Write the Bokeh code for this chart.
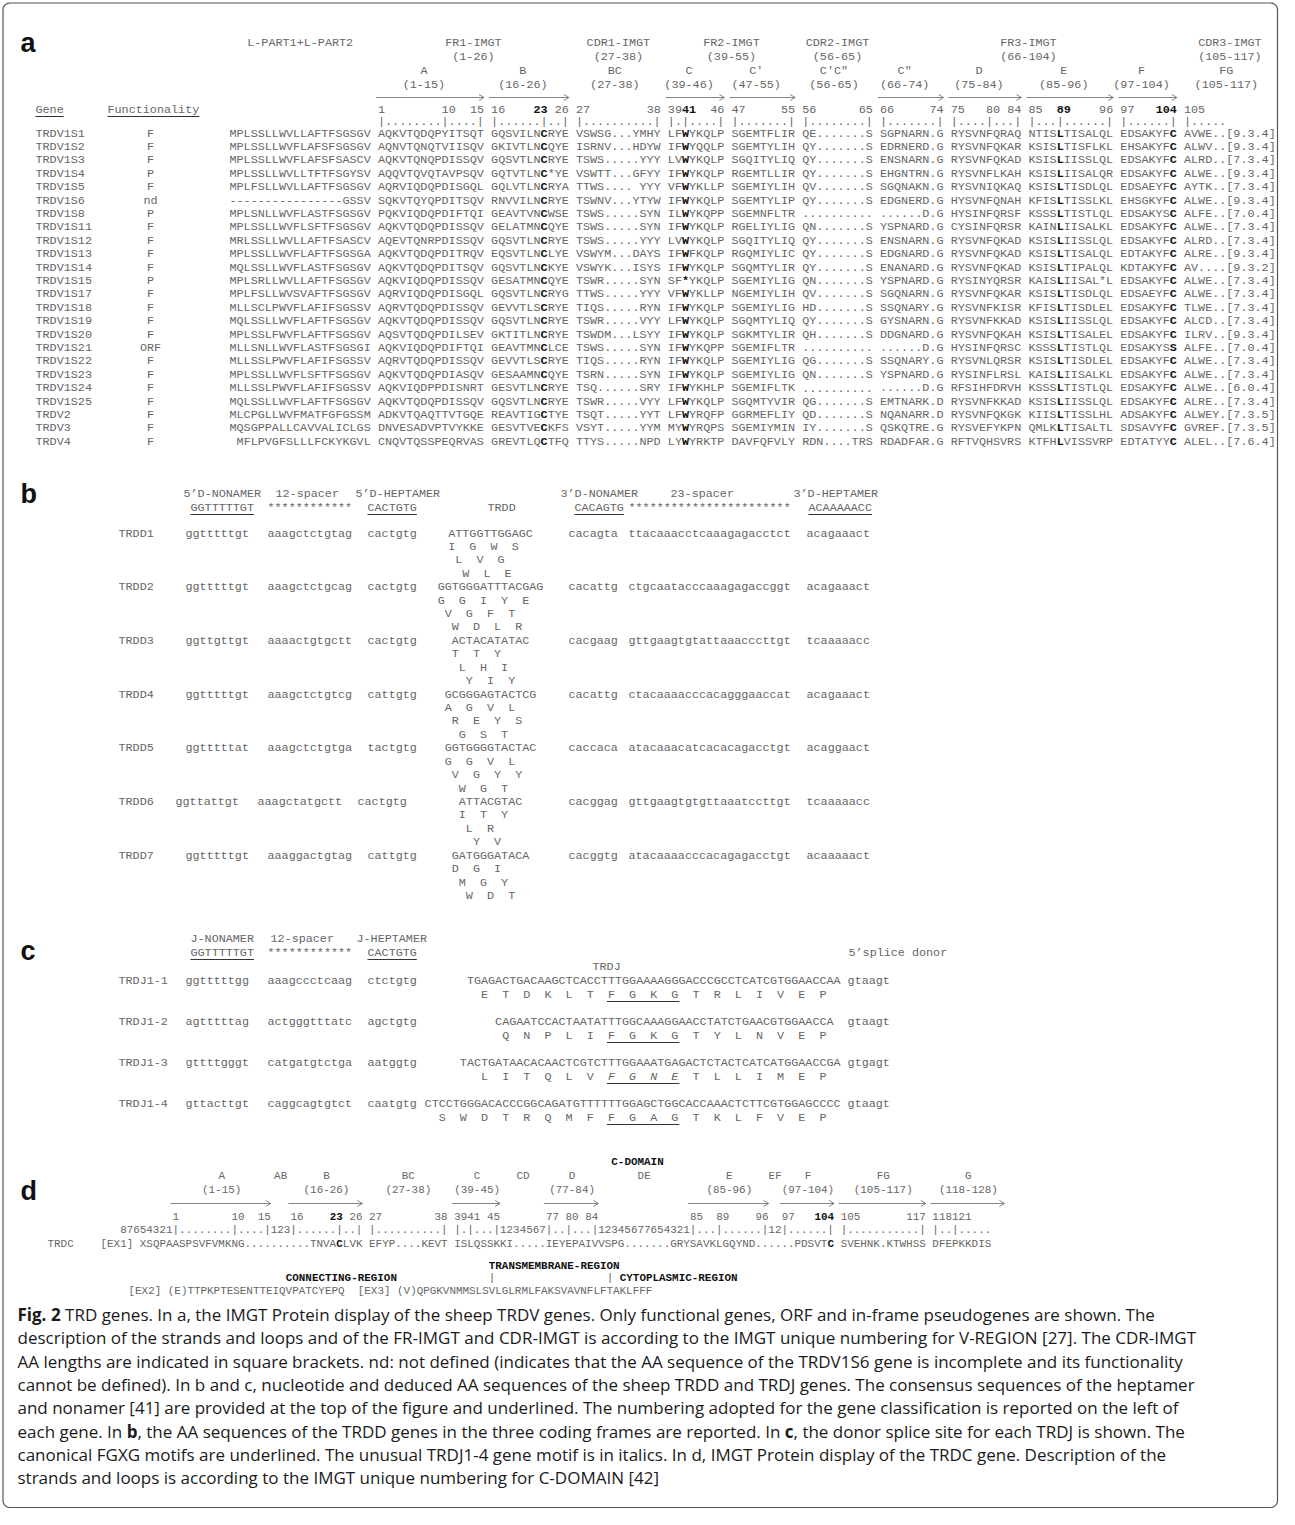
import os, glob, subprocess, math
from collections import defaultdict
from bokeh.plotting import figure
from bokeh.models import ColumnDataSource, Range1d
from bokeh.core.properties import value
from bokeh.embed import file_html
from bokeh.resources import INLINE

# ======================= DATA =======================
# ---- panel a : TRDV genes ----
a_genes = ["TRDV1S1", "TRDV1S2", "TRDV1S3", "TRDV1S4", "TRDV1S5", "TRDV1S6", "TRDV1S8",
           "TRDV1S11", "TRDV1S12", "TRDV1S13", "TRDV1S14", "TRDV1S15", "TRDV1S17",
           "TRDV1S18", "TRDV1S19", "TRDV1S20", "TRDV1S21", "TRDV1S22", "TRDV1S23",
           "TRDV1S24", "TRDV1S25", "TRDV2", "TRDV3", "TRDV4"]
a_func = ["F", "F", "F", "P", "F", "nd", "P", "F", "F", "F", "F", "P", "F", "F", "F", "F",
          "ORF", "F", "F", "F", "F", "F", "F", "F"]
a_seqs = [
    "MPLSSLLWVLLAFTFSGSGV AQKVTQDQPYITSQT GQSVILNCRYE VSWSG...YMHY LFWYKQLP SGEMTFLIR QE.......S SGPNARN.G RYSVNFQRAQ NTISLTISALQL EDSAKYFC AVWE..[9.3.4]",
    "MPLSSLLWVFLAFSFSGSGV AQNVTQNQTVIISQV GKIVTLNCQYE ISRNV...HDYW IFWYQQLP SGEMTYLIH QY.......S EDRNERD.G RYSVNFQKAR KSISLTISFLKL EHSAKYFC ALWV..[9.3.4]",
    "MPLSSLLWVFLAFSFSASCV AQKVTQNQPDISSQV GQSVTLNCRYE TSWS.....YYY LVWYKQLP SGQITYLIQ QY.......S ENSNARN.G RYSVNFQKAD KSISLIISSLQL EDSAKYFC ALRD..[7.3.4]",
    "MPLSSLLWVLLTFTFSGYSV AQQVTQVQTAVPSQV GQTVTLNC*YE VSWTT...GFYY IFWYKQLP RGEMTLLIR QY.......S EHGNTRN.G RYSVNFLKAH KSISLIISALQR EDSAKYFC ALWE..[9.3.4]",
    "MPLFSLLWVLLAFTFSGSGV AQRVIQDQPDISGQL GQLVTLNCRYA TTWS.... YYY VFWYKLLP SGEMIYLIH QV.......S SGQNAKN.G RYSVNIQKAQ KSISLTISDLQL EDSAEYFC AYTK..[7.3.4]",
    "----------------GSSV SQKVTQYQPDITSQV RNVVILNCRYE TSWNV...YTYW IFWYKQLP SGEMTYLIP QY.......S EDGNERD.G HYSVNFQNAH KFISLTISSLKL EHSGKYFC ALWE..[9.3.4]",
    "MPLSNLLWVFLASTFSGSGV PQKVIQDQPDIFTQI GEAVTVNCWSE TSWS.....SYN ILWYKQPP SGEMNFLTR .......... ......D.G HYSINFQRSF KSSSLTISTLQL EDSAKYSC ALFE..[7.0.4]",
    "MPLSSLLWVFLSFTFSGSGV AQKVTQDQPDISSQV GELATMNCQYE TSWS.....SYN IFWYKQLP RGELIYLIG QN.......S YSPNARD.G CYSINFQRSR KAINLIISALKL EDSAKYFC ALWE..[7.3.4]",
    "MRLSSLLWVLLAFTFSASCV AQEVTQNRPDISSQV GQSVTLNCRYE TSWS.....YYY LVWYKQLP SGQITYLIQ QY.......S ENSNARN.G RYSVNFQKAD KSISLIISSLQL EDSAKYFC ALRD..[7.3.4]",
    "MPLSSLLWVFLAFTFSGSGA AQKVTQDQPDITRQV EQSVTLNCLYE VSWYM...DAYS IFWFKQLP RGQMIYLIC QY.......S EDGNARD.G RYSVNFQKAD KSISLTISALQL EDTAKYFC ALRE..[9.3.4]",
    "MQLSSLLWVFLASTFSGSGV AQKVTQDQPDITSQV GQSVTLNCKYE VSWYK...ISYS IFWYKQLP SGQMTYLIR QY.......S ENANARD.G RYSVNFQKAD KSISLTIPALQL KDTAKYFC AV....[9.3.2]",
    "MPLSRLLWVLLAFTFSGSGV AQKVIQDQPDISSQV GESATMNCQYE TSWR.....SYN SF*YKQLP SGEMIYLIG QN.......S YSPNARD.G RYSINYQRSR KAISLIISAL*L EDSAKYFC ALWE..[7.3.4]",
    "MPLFSLLWVSVAFTFSGSGV AQRVIQDQPDISGQL GQSVTLNCRYG TTWS.....YYY VFWYKLLP NGEMIYLIH QV.......S SGQNARN.G RYSVNFQKAR KSISLTISDLQL EDSAEYFC ALWE..[7.3.4]",
    "MLLSCLPWVFLAFIFSGSSV AQRVTQDQPDISSQV GEVVTLSCRYE TIQS.....RYN IFWYKQLP SGEMIYLIG HD.......S SSQNARY.G RYSVNFKISR KFISLTISDLEL EDSAKYFC TLWE..[7.3.4]",
    "MQLSSLLWVFLAFTFSGSGV AQKVTQDQPDISSQV GQSVTLNCRYE TSWR.....VYY LFWYKQLP SGQMTYLIQ QY.......S GYSNARN.G RYSVNFKKAD KSISLIISSLQL EDSAKYFC ALCD..[7.3.4]",
    "MPLSSLFWVFLAFTFSGSGV AQSVTQDQPDILSEV GKTITLNCRYE TSWDM...LSYY IFWYKQLP SGKMTYLIR QH.......S DDGNARD.G RYSVNFQKAH KSISLTISALEL EDSAKYFC ILRV..[9.3.4]",
    "MLLSNLLWVFLASTFSGSGI AQKVIQDQPDIFTQI GEAVTMNCLCE TSWS.....SYN IFWYKQPP SGEMIFLTR .......... ......D.G HYSINFQRSC KSSSLTISTLQL EDSAKYSS ALFE..[7.0.4]",
    "MLLSSLPWVFLAFIFSGSSV AQRVTQDQPDISSQV GEVVTLSCRYE TIQS.....RYN IFWYKQLP SGEMIYLIG QG.......S SSQNARY.G RYSVNLQRSR KSISLTISDLEL EDSAKYFC ALWE..[7.3.4]",
    "MPLSSLLWVFLSFTFSGSGV AQKVTQDQPDIASQV GESAAMNCQYE TSRN.....SYN IFWYKQLP SGEMIYLIG QN.......S YSPNARD.G RYSINFLRSL KAISLIISALKL EDSAKYFC ALWE..[7.3.4]",
    "MLLSSLPWVFLAFIFSGSSV AQKVIQDPPDISNRT GESVTLNCRYE TSQ......SRY IFWYKHLP SGEMIFLTK .......... ......D.G RFSIHFDRVH KSSSLTISTLQL EDSAKYFC ALWE..[6.0.4]",
    "MQLSSLLWVFLAFTFSGSGV AQKVTQDQPDISSQV GQSVTLNCRYE TSWR.....VYY LFWYKQLP SGQMTYVIR QG.......S EMTNARK.D RYSVNFKKAD KSISLIISSLQL EDSAKYFC ALRE..[7.3.4]",
    "MLCPGLLWVFMATFGFGSSM ADKVTQAQTTVTGQE REAVTIGCTYE TSQT.....YYT LFWYRQFP GGRMEFLIY QD.......S NQANARR.D RYSVNFQKGK KIISLTISSLHL ADSAKYFC ALWEY.[7.3.5]",
    "MQSGPPALLCAVVALICLGS DNVESADVPTVYKKE GESVTVECKFS VSYT.....YYM MYWYRQPS SGEMIYMIN IY.......S QSKQTRE.G RYSVEFYKPN QMLKLTISALTL SDSAVYFC GVREF.[7.3.5]",
    " MFLPVGFSLLLFCKYKGVL CNQVTQSSPEQRVAS GREVTLQCTFQ TTYS.....NPD LYWYRKTP DAVFQFVLY RDN....TRS RDADFAR.G RFTVQHSVRS KTFHLVISSVRP EDTATYYC ALEL..[7.6.4]",
]
a_bold_pos = [23, 41, 89, 104]
a_top_labels = ["FR1-IMGT", "CDR1-IMGT", "FR2-IMGT", "CDR2-IMGT", "FR3-IMGT", "CDR3-IMGT"]
a_top_ranges = ["(1-26)", "(27-38)", "(39-55)", "(56-65)", "(66-104)", "(105-117)"]
a_top_first = [1, 27, 39, 56, 66, 105]
a_top_last = [26, 38, 55, 65, 104, 117]
a_strands = ["A", "B", "BC", "C", "C'", "C'C\"", "C\"", "D", "E", "F", "FG"]
a_strand_ranges = ["(1-15)", "(16-26)", "(27-38)", "(39-46)", "(47-55)", "(56-65)",
                   "(66-74)", "(75-84)", "(85-96)", "(97-104)", "(105-117)"]
a_strand_first = [1, 16, 27, 39, 47, 56, 66, 75, 85, 97, 105]
a_strand_last = [15, 26, 38, 46, 55, 65, 74, 84, 96, 104, 117]
a_strand_arrow = [1, 1, 0, 1, 1, 0, 1, 1, 1, 1, 0]
a_num_pos = [1, 10, 15, 16, 23, 26, 27, 38, 39, 41, 46, 47, 55, 56, 65, 66, 74, 75, 80, 84,
             85, 89, 96, 97, 104, 105]
a_num_align = "l l r l r r l r l l r l r l r l r l l r l l r l r l".split()
a_num_bold = [23, 41, 89, 104]
a_ruler = "|........|....| |......|..| |..........| |.|....| |.......| |........| |.......| |....|...| |...|......| |......| |....."

# ---- panel b : TRDD genes ----
b_genes = ["TRDD1", "TRDD2", "TRDD3", "TRDD4", "TRDD5", "TRDD6", "TRDD7"]
b_non5 = ["ggtttttgt", "ggtttttgt", "ggttgttgt", "ggtttttgt", "ggtttttat", "ggttattgt", "ggtttttgt"]
b_sp12 = ["aaagctctgtag", "aaagctctgcag", "aaaactgtgctt", "aaagctctgtcg", "aaagctctgtga",
          "aaagctatgctt", "aaaggactgtag"]
b_hep5 = ["cactgtg", "cactgtg", "cactgtg", "cattgtg", "tactgtg", "cactgtg", "cattgtg"]
b_coding = ["ATTGGTTGGAGC", "GGTGGGATTTACGAG", "ACTACATATAC", "GCGGGAGTACTCG",
            "GGTGGGGTACTAC", "ATTACGTAC", "GATGGGATACA"]
b_frame1 = ["IGWS", "GGIYE", "TTY", "AGVL", "GGVL", "ITY", "DGI"]
b_frame2 = ["LVG", "VGFT", "LHI", "REYS", "VGYY", "LR", "MGY"]
b_frame3 = ["WLE", "WDLR", "YIY", "GST", "WGT", "YV", "WDT"]
b_hep3 = ["cacagta", "cacattg", "cacgaag", "cacattg", "caccaca", "cacggag", "cacggtg"]
b_sp23 = ["ttacaaacctcaaagagacctct", "ctgcaatacccaaagagaccggt", "gttgaagtgtattaaacccttgt",
          "ctacaaaacccacagggaaccat", "atacaaacatcacacagacctgt", "gttgaagtgtgttaaatccttgt",
          "atacaaaacccacagagacctgt"]
b_non3 = ["acagaaact", "acagaaact", "tcaaaaacc", "acagaaact", "acaggaact", "tcaaaaacc", "acaaaaact"]

# ---- panel c : TRDJ genes ----
c_genes = ["TRDJ1-1", "TRDJ1-2", "TRDJ1-3", "TRDJ1-4"]
c_non = ["ggtttttgg", "agtttttag", "gttttgggt", "gttacttgt"]
c_sp12 = ["aaagccctcaag", "actgggtttatc", "catgatgtctga", "caggcagtgtct"]
c_hep = ["ctctgtg", "agctgtg", "aatggtg", "caatgtg"]
c_coding = ["TGAGACTGACAAGCTCACCTTTGGAAAAGGGACCCGCCTCATCGTGGAACCAA",
            "CAGAATCCACTAATATTTGGCAAAGGAACCTATCTGAACGTGGAACCA",
            "TACTGATAACACAACTCGTCTTTGGAAATGAGACTCTACTCATCATGGAACCGA",
            "CTCCTGGGACACCCGGCAGATGTTTTTTGGAGCTGGCACCAAACTCTTCGTGGAGCCCC"]
c_frame = [1, 0, 2, 1]
c_aa = ["ETDKLTFGKGTRLIVEP", "QNPLIFGKGTYLNVEP", "LITQLVFGNETLLIMEP", "SWDTRQMFFGAGTKLFVEP"]
c_motif_start = [6, 5, 6, 8]
c_motif_italic = [False, False, True, False]
c_donor = ["gtaagt", "gtaagt", "gtgagt", "gtaagt"]

# ---- panel d : TRDC ----
d_strands = ["A", "AB", "B", "BC", "C", "CD", "D", "DE", "E", "EF", "F", "FG", "G"]
d_ranges = ["(1-15)", "", "(16-26)", "(27-38)", "(39-45)", "", "(77-84)", "", "(85-96)", "",
            "(97-104)", "(105-117)", "(118-128)"]
d_seg_col = [8, 23, 26, 38, 51, 58, 65, 73, 87, 99, 101, 110, 124]
d_seg_len = [15, 3, 11, 12, 7, 7, 8, 14, 12, 2, 8, 13, 11]
d_arrow = [1, 0, 1, 0, 1, 0, 1, 0, 1, 0, 1, 1, 1]
d_num_pos = [1, 10, 15, 16, 23, 26, 27, 38, 39, 41, 45, 77, 80, 84, 85, 89, 96, 97, 104, 105,
             117, 118, 121]
d_num_align = "l l r l r r l r l l r l l r l l r l r l r l l".split()
d_num_bold = [23, 104]
d_ruler = "87654321|........|....|123|......|..| |..........| |.|...|1234567|..|...|12345677654321|...|......|12|......| |...........| |..|....."
d_trdc = "[EX1] XSQPAASPSVFVMKNG..........TNVACLVK EFYP....KEVT ISLQSSKKI.....IEYEPAIVVSPG.......GRYSAVKLGQYND......PDSVTC SVEHNK.KTWHSS DFEPKKDIS"
d_exon = "[EX2] (E)TTPKPTESENTTEIQVPATCYEPQ  [EX3] (V)QPGKVNMMSLSVLGLRMLFAKSVAVNFLFTAKLFFF"

# ---- caption ----
cap_lines = [
    [("Fig. 2", True), (" TRD genes. In a, the IMGT Protein display of the sheep TRDV genes. Only functional genes, ORF and in-frame pseudogenes are shown. The", False)],
    [("description of the strands and loops and of the FR-IMGT and CDR-IMGT is according to the IMGT unique numbering for V-REGION [27]. The CDR-IMGT", False)],
    [("AA lengths are indicated in square brackets. nd: not defined (indicates that the AA sequence of the TRDV1S6 gene is incomplete and its functionality", False)],
    [("cannot be defined). In b and c, nucleotide and deduced AA sequences of the sheep TRDD and TRDJ genes. The consensus sequences of the heptamer", False)],
    [("and nonamer [41] are provided at the top of the figure and underlined. The numbering adopted for the gene classification is reported on the left of", False)],
    [("each gene. In ", False), ("b", True), (", the AA sequences of the TRDD genes in the three coding frames are reported. In ", False), ("c", True), (", the donor splice site for each TRDJ is shown. The", False)],
    [("canonical FGXG motifs are underlined. The unusual TRDJ1-4 gene motif is in italics. In d, IMGT Protein display of the TRDC gene. Description of the", False)],
    [("strands and loops is according to the IMGT unique numbering for C-DOMAIN [42]", False)],
]

# ======================= STYLE / LAYOUT =======================
MONO = "Liberation Mono"
SANS = "Liberation Sans"
CAPF = "Open Sans"
GRAY = "#666666"
BLACK = "#111111"
LINEC = "#777777"

W_FIG, H_FIG = 1279, 1509
p = figure(width=W_FIG, height=H_FIG, x_range=Range1d(0, W_FIG), y_range=Range1d(H_FIG, 0),
           output_backend="svg", toolbar_location=None, x_axis_type=None, y_axis_type=None,
           min_border=0, min_border_left=0, min_border_right=0, min_border_top=0, min_border_bottom=0)
p.outline_line_color = None
p.background_fill_color = "white"
p.border_fill_color = "white"

groups = defaultdict(lambda: {"x": [], "y": [], "text": []})
segs = defaultdict(lambda: {"x0": [], "y0": [], "x1": [], "y1": []})


def put(x, y, s, font=MONO, size="11.8px", style="normal", color=GRAY, align="left"):
    g = groups[(font, size, style, color, align)]
    g["x"].append(x)
    g["y"].append(y)
    g["text"].append(s)


def seg(x0, y0, x1, y1, color=LINEC, width=1.0):
    s = segs[(color, width)]
    s["x0"].append(x0); s["y0"].append(y0); s["x1"].append(x1); s["y1"].append(y1)


def put_mono(s, x0, y, w, size, bold_cols=(), color=GRAY, bcolor=BLACK, style="normal"):
    i, n = 0, len(s)
    bold_cols = set(bold_cols)
    while i < n:
        if s[i] == " ":
            i += 1
            continue
        if i in bold_cols:
            put(x0 + i * w, y, s[i], size=size, style="bold", color=bcolor)
            i += 1
            continue
        j = i
        while j < n and s[j] != " " and j not in bold_cols:
            j += 1
        put(x0 + i * w, y, s[i:j], size=size, color=color, style=style)
        i = j


def arrow(x1, x2, y):
    seg(x1, y, x2, y, LINEC, 0.9)
    seg(x2 - 5, y - 3, x2, y, LINEC, 0.9)
    seg(x2 - 5, y + 3, x2, y, LINEC, 0.9)


def make_pos_to_col(firsts, cols):
    def f(pos):
        c = None
        for fp, cc in zip(firsts, cols):
            if pos >= fp:
                c = cc + pos - fp
        return c
    return f


def underlined(x, y, s, w, size):
    put(x, y, s, size=size)
    seg(x, y + 7, x + len(s) * w, y + 7, "#333333", 1)


# ======================= PANEL a =======================
AX0, AW = 229.0, 7.07
AFS = "%.3fpx" % (AW / 0.6)
a_pos_col = make_pos_to_col(a_strand_first, [21, 37, 49, 62, 71, 81, 92, 102, 113, 126, 135])

put(20, 42, "a", font=SANS, size="27px", style="bold", color=BLACK)
put(AX0 + 10 * AW, 42, "L-PART1+L-PART2", size=AFS, align="center")
for lab, rng, f0, f1 in zip(a_top_labels, a_top_ranges, a_top_first, a_top_last):
    cx = AX0 + (a_pos_col(f0) + a_pos_col(f1) + 1) / 2 * AW
    put(cx, 42, lab, size=AFS, align="center")
    put(cx, 56, rng, size=AFS, align="center")
for lab, rng, f0, f1, ar in zip(a_strands, a_strand_ranges, a_strand_first, a_strand_last, a_strand_arrow):
    c0, c1 = a_pos_col(f0), a_pos_col(f1)
    cx = AX0 + ((c0 + c1 + 1) / 2 - (1.0 if ar else 0.5)) * AW
    put(cx, 70, lab, size=AFS, align="center")
    put(cx, 84, rng, size=AFS, align="center")
    if ar:
        arrow(AX0 + c0 * AW - 2, AX0 + (c1 + 1) * AW, 97)

put(35, 109, "Gene", size=AFS)
seg(35, 116, 35 + 4 * AW, 116, "#333333", 1)
put(107, 109, "Functionality", size=AFS)
seg(107, 116, 107 + 13 * AW, 116, "#333333", 1)
for pos, al in zip(a_num_pos, a_num_align):
    t = str(pos)
    c = a_pos_col(pos)
    if al == "r":
        c = c - len(t) + 1
    bold = pos in a_num_bold
    put(AX0 + c * AW, 109, t, size=AFS, style="bold" if bold else "normal", color=BLACK if bold else GRAY)
put_mono(a_ruler, AX0 + 21 * AW, 121, AW, AFS)

a_bold_cols = [a_pos_col(p_) for p_ in a_bold_pos]
for i, (g, fn, s) in enumerate(zip(a_genes, a_func, a_seqs)):
    y = 133 + 13.4 * i
    put(35, y, g, size=AFS)
    put(150, y, fn, size=AFS, align="center")
    put_mono(s, AX0, y, AW, AFS, bold_cols=a_bold_cols)

# ======================= PANEL b =======================
BW = 7.05
BFS = "%.3fpx" % (BW / 0.6)
B_LAB, B_NON, B_SP, B_HEP, B_COD = 118, 185, 267, 367, 490
B_N3, B_S3, B_H3 = 568, 628, 806
put(20, 493, "b", font=SANS, size="27px", style="bold", color=BLACK)
put(183, 493, "5’D-NONAMER", size=BFS)
put(275, 493, "12-spacer", size=BFS)
put(355, 493, "5’D-HEPTAMER", size=BFS)
put(560, 493, "3’D-NONAMER", size=BFS)
put(670, 493, "23-spacer", size=BFS)
put(793, 493, "3’D-HEPTAMER", size=BFS)
underlined(190, 507, "GGTTTTTGT", BW, BFS)
put(267, 507, "************", size=BFS)
underlined(367, 507, "CACTGTG", BW, BFS)
put(487, 507, "TRDD", size=BFS)
underlined(574, 507, "CACAGTG", BW, BFS)
put(628, 507, "***********************", size=BFS)
underlined(808, 507, "ACAAAAACC", BW, BFS)

for i in range(len(b_genes)):
    y = 533 + 53.7 * i
    sh = -10 if b_genes[i] == "TRDD6" else 0
    put(B_LAB, y, b_genes[i], size=BFS)
    put(B_NON + sh, y, b_non5[i], size=BFS)
    put(B_SP + sh, y, b_sp12[i], size=BFS)
    put(B_HEP + sh, y, b_hep5[i], size=BFS)
    x0 = B_COD - len(b_coding[i]) * BW / 2
    put(x0, y, b_coding[i], size=BFS)
    for f, fr in enumerate([b_frame1[i], b_frame2[i], b_frame3[i]]):
        for k, aa in enumerate(fr):
            put(x0 + (f + 3 * k) * BW, y + 13.4 * (f + 1), aa, size=BFS)
    put(B_N3, y, b_hep3[i], size=BFS)
    put(B_S3, y, b_sp23[i], size=BFS)
    put(B_H3, y, b_non3[i], size=BFS)

# ======================= PANEL c =======================
C_END = 833.0  # end of the last complete codon
put(20, 950, "c", font=SANS, size="27px", style="bold", color=BLACK)
put(190, 938, "J-NONAMER", size=BFS)
put(270, 938, "12-spacer", size=BFS)
put(356, 938, "J-HEPTAMER", size=BFS)
underlined(190, 952, "GGTTTTTGT", BW, BFS)
put(267, 952, "************", size=BFS)
underlined(367, 952, "CACTGTG", BW, BFS)
put(848, 952, "5’splice donor", size=BFS)
put(592, 966, "TRDJ", size=BFS)
for i in range(len(c_genes)):
    y = 980 + 41 * i
    put(B_LAB, y, c_genes[i], size=BFS)
    put(B_NON, y, c_non[i], size=BFS)
    put(B_SP, y, c_sp12[i], size=BFS)
    put(B_HEP, y, c_hep[i], size=BFS)
    s = c_coding[i]
    tail = (len(s) - c_frame[i]) % 3
    x0 = C_END - (len(s) - tail) * BW
    put(x0, y, s, size=BFS)
    put(x0 + (len(s) + 1) * BW if tail else x0 + (len(s) + 2) * BW, y, c_donor[i], size=BFS)
    ya = y + 14
    for k, aa in enumerate(c_aa[i]):
        cx = x0 + (c_frame[i] + 3 * k + 1.5) * BW
        in_motif = c_motif_start[i] <= k < c_motif_start[i] + 4
        st = "italic" if (in_motif and c_motif_italic[i]) else "normal"
        put(cx, ya, aa, size=BFS, style=st, align="center")
    m0 = x0 + (c_frame[i] + 3 * c_motif_start[i] + 1.5) * BW - BW / 2 - 1
    m1 = x0 + (c_frame[i] + 3 * (c_motif_start[i] + 3) + 1.5) * BW + BW / 2 + 1
    seg(m0, ya + 7, m1, ya + 7, "#333333", 1)

# ======================= PANEL d =======================
DW = 6.55
DFS = "%.3fpx" % (DW / 0.6)
D_SEQ_X = 100.0
D_RUL_X = D_SEQ_X + 3 * DW
D_EX_X = 128.0
d_pos_col = make_pos_to_col([1, 16, 27, 39, 77, 85, 97, 105, 118], [8, 26, 38, 51, 65, 87, 101, 110, 124])

put(20, 1190, "d", font=SANS, size="27px", style="bold", color=BLACK)
put(637, 1161, "C-DOMAIN", size=DFS, style="bold", color=BLACK, align="center")
for lab, rng, c0, ln, ar in zip(d_strands, d_ranges, d_seg_col, d_seg_len, d_arrow):
    cx = D_RUL_X + (c0 + ln / 2) * DW
    put(cx, 1175, lab, size=DFS, align="center")
    if rng:
        put(cx, 1189, rng, size=DFS, align="center")
    if ar:
        arrow(D_RUL_X + c0 * DW - 2, D_RUL_X + (c0 + ln) * DW, 1203)
for pos, al in zip(d_num_pos, d_num_align):
    t = str(pos)
    c = d_pos_col(pos)
    if al == "r":
        c = c - len(t) + 1
    bold = pos in d_num_bold
    put(D_RUL_X + c * DW, 1216, t, size=DFS, style="bold" if bold else "normal", color=BLACK if bold else GRAY)
put_mono(d_ruler, D_RUL_X, 1229, DW, DFS)
put(47, 1243, "TRDC", size=DFS)
put_mono(d_trdc, D_SEQ_X, 1243, DW, DFS, bold_cols=[d_pos_col(p_) + 3 for p_ in d_num_bold])

put(D_EX_X + 55 * DW, 1265, "TRANSMEMBRANE-REGION", size=DFS, style="bold", color=BLACK)
put(D_EX_X + 24 * DW, 1277, "CONNECTING-REGION", size=DFS, style="bold", color=BLACK)
put(D_EX_X + 55 * DW, 1277, "|", size=DFS)
put(D_EX_X + 73 * DW, 1277, "|", size=DFS)
put(D_EX_X + 75 * DW, 1277, "CYTOPLASMIC-REGION", size=DFS, style="bold", color=BLACK)
put_mono(d_exon, D_EX_X, 1290, DW, DFS)

# ======================= CAPTION =======================
CAP_X, CAP_Y0, CAP_DY = 17.0, 1314.0, 23.3
measure = None
cap_size = 15.4


def _fc(q):
    try:
        r = subprocess.run(["fc-match", "-f", "%{file}", q], capture_output=True, text=True, timeout=10)
        f = r.stdout.strip()
        if f and os.path.exists(f) and "opensans" in os.path.basename(f).lower().replace("-", "").replace("_", ""):
            return f
    except Exception:
        pass
    return None


try:
    from PIL import ImageFont
    reg = _fc("Open Sans:style=Regular")
    bld = _fc("Open Sans:style=Bold")
    if reg is None:
        cand = glob.glob("/usr/share/fonts/**/OpenSans*.ttf", recursive=True)
        regs = [c for c in cand if "Regular" in c] or [c for c in cand if "Italic" not in c]
        blds = [c for c in cand if os.path.basename(c).startswith("OpenSans-Bold.")]
        reg = regs[0] if regs else None
        bld = blds[0] if blds else reg
    if reg:
        f_reg = ImageFont.truetype(reg, 100)
        f_bld = ImageFont.truetype(bld or reg, 100)
        if (bld or reg) == reg:
            try:
                axes = f_bld.get_variation_axes()
                vals = []
                for a in axes:
                    nm = a.get("name", b"")
                    nm = nm.decode() if isinstance(nm, bytes) else str(nm)
                    vals.append(700 if "eight" in nm.lower() or "wght" in nm.lower() else a.get("default", 100))
                f_bld.set_variation_by_axes(vals)
            except Exception:
                pass
        ref_w = f_reg.getlength(cap_lines[2][0][0])
        cap_size = 100.0 * 1256.0 / ref_w
        cap_size = max(13.0, min(17.0, cap_size))

        def measure(t, b):
            return (f_bld if b else f_reg).getlength(t) * cap_size / 100.0
except Exception:
    measure = None

if measure is None:
    def measure(t, b):
        return len(t) * cap_size * (0.58 if b else 0.545)

CFS = "%.2fpx" % cap_size
for li, runs in enumerate(cap_lines):
    x = CAP_X
    y = CAP_Y0 + CAP_DY * li
    for txt, b in runs:
        stripped = txt.lstrip(" ")
        lead = txt[:len(txt) - len(stripped)]
        if lead:
            x += measure(lead, b)
        put(x, y, stripped, font=CAPF, size=CFS, style="bold" if b else "normal", color="#1a1a1a")
        x += measure(stripped, b)

# ======================= BORDER =======================
r = 7.0
L, R, T, B = 2.5, 1277.0, 2.5, 1507.0
bx, by = [], []
for (cx, cy, a0) in [(R - r, T + r, -90), (R - r, B - r, 0), (L + r, B - r, 90), (L + r, T + r, 180)]:
    for k in range(11):
        ang = math.radians(a0 + 9 * k)
        bx.append(cx + r * math.cos(ang))
        by.append(cy + r * math.sin(ang))
bx.append(bx[0]); by.append(by[0])
p.line(bx, by, line_color="#555555", line_width=1.2)

# ======================= RENDER =======================
for (color, width), d in segs.items():
    p.segment(x0="x0", y0="y0", x1="x1", y1="y1", source=ColumnDataSource(dict(d)),
              line_color=color, line_width=width)
for (font, size, style, color, align), d in groups.items():
    p.text(x="x", y="y", text="text", source=ColumnDataSource(dict(d)),
           text_font=value(font), text_font_size=value(size), text_font_style=style,
           text_color=color, text_align=align, text_baseline="middle")

open("out.html", "w").write(file_html(p, INLINE))
